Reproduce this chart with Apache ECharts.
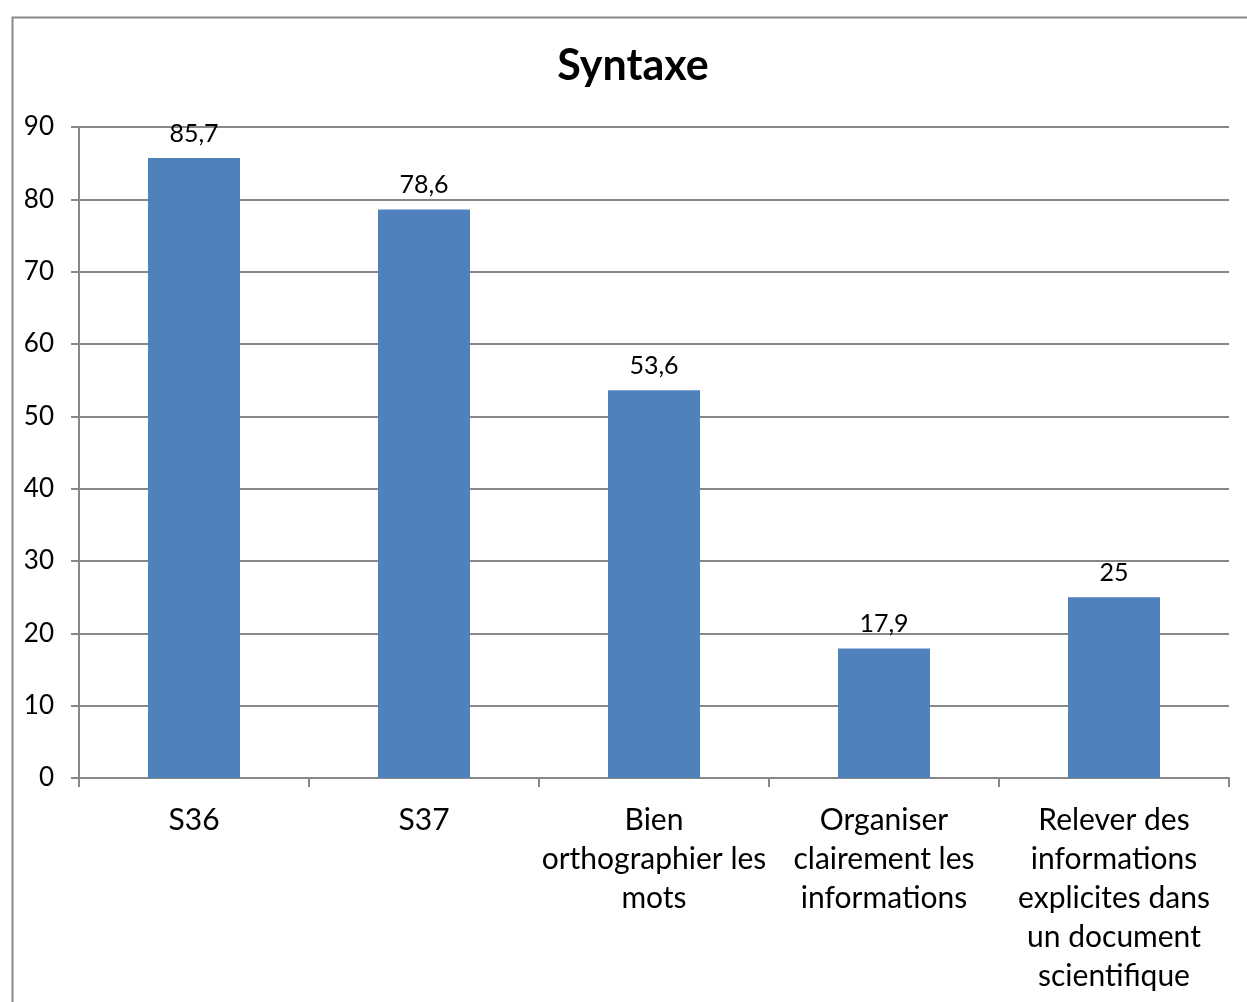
<!DOCTYPE html>
<html><head><meta charset="utf-8">
<script src="https://cdn.jsdelivr.net/npm/echarts@6/dist/echarts.min.js"></script>
<style>html,body{margin:0;padding:0;background:#fff}#c{width:1247px;height:1002px}</style>
</head><body><div id="c"></div>
<script>
const title = 'Syntaxe';
const categories = ['S36', 'S37', 'Bien\northographier les\nmots', 'Organiser\nclairement les\ninformations', 'Relever des\ninformations\nexplicites dans\nun document\nscientifique'];
const values = [85.7, 78.6, 53.6, 17.9, 25];
const yTicks = [0, 10, 20, 30, 40, 50, 60, 70, 80, 90];

const font = 'Lato, "Open Sans", sans-serif';
const chart = echarts.init(document.getElementById('c'));
chart.setOption({
  animation: false,
  backgroundColor: '#fff',
  graphic: [{
    type: 'rect', left: 10, top: 15,
    shape: { width: 1300, height: 1100 },
    style: { fill: 'none', stroke: '#888', lineWidth: 2 }, z: -1
  }],
  title: {
    text: title, left: 628, top: 40, textAlign: 'center',
    textStyle: { fontFamily: font, fontWeight: 'bold', fontSize: 43, color: '#000' }
  },
  grid: { left: 79, right: 18, top: 127, bottom: 224 },
  xAxis: {
    type: 'category', data: categories,
    axisLine: { lineStyle: { color: '#888', width: 2 } },
    axisTick: { show: true, length: 9, alignWithLabel: false, lineStyle: { color: '#888', width: 2 } },
    axisLabel: { interval: 0, margin: 23, fontFamily: font, fontSize: 30, lineHeight: 39, color: '#000', align: 'center' }
  },
  yAxis: {
    type: 'value', min: yTicks[0], max: yTicks[yTicks.length - 1], interval: 10,
    axisLine: { show: true, lineStyle: { color: '#888', width: 2 } },
    axisTick: { show: true, length: 8, lineStyle: { color: '#888', width: 2 } },
    axisLabel: { margin: 25, fontFamily: font, fontSize: 26, color: '#000' },
    splitLine: { lineStyle: { color: '#888', width: 2 } }
  },
  series: [{
    type: 'bar', data: values, barWidth: '40%',
    itemStyle: { color: '#4F81BD' },
    label: {
      show: true, position: 'top', distance: 12,
      fontFamily: font, fontSize: 25, color: '#000',
      formatter: p => String(p.value).replace('.', ',')
    }
  }]
});
</script></body></html>
